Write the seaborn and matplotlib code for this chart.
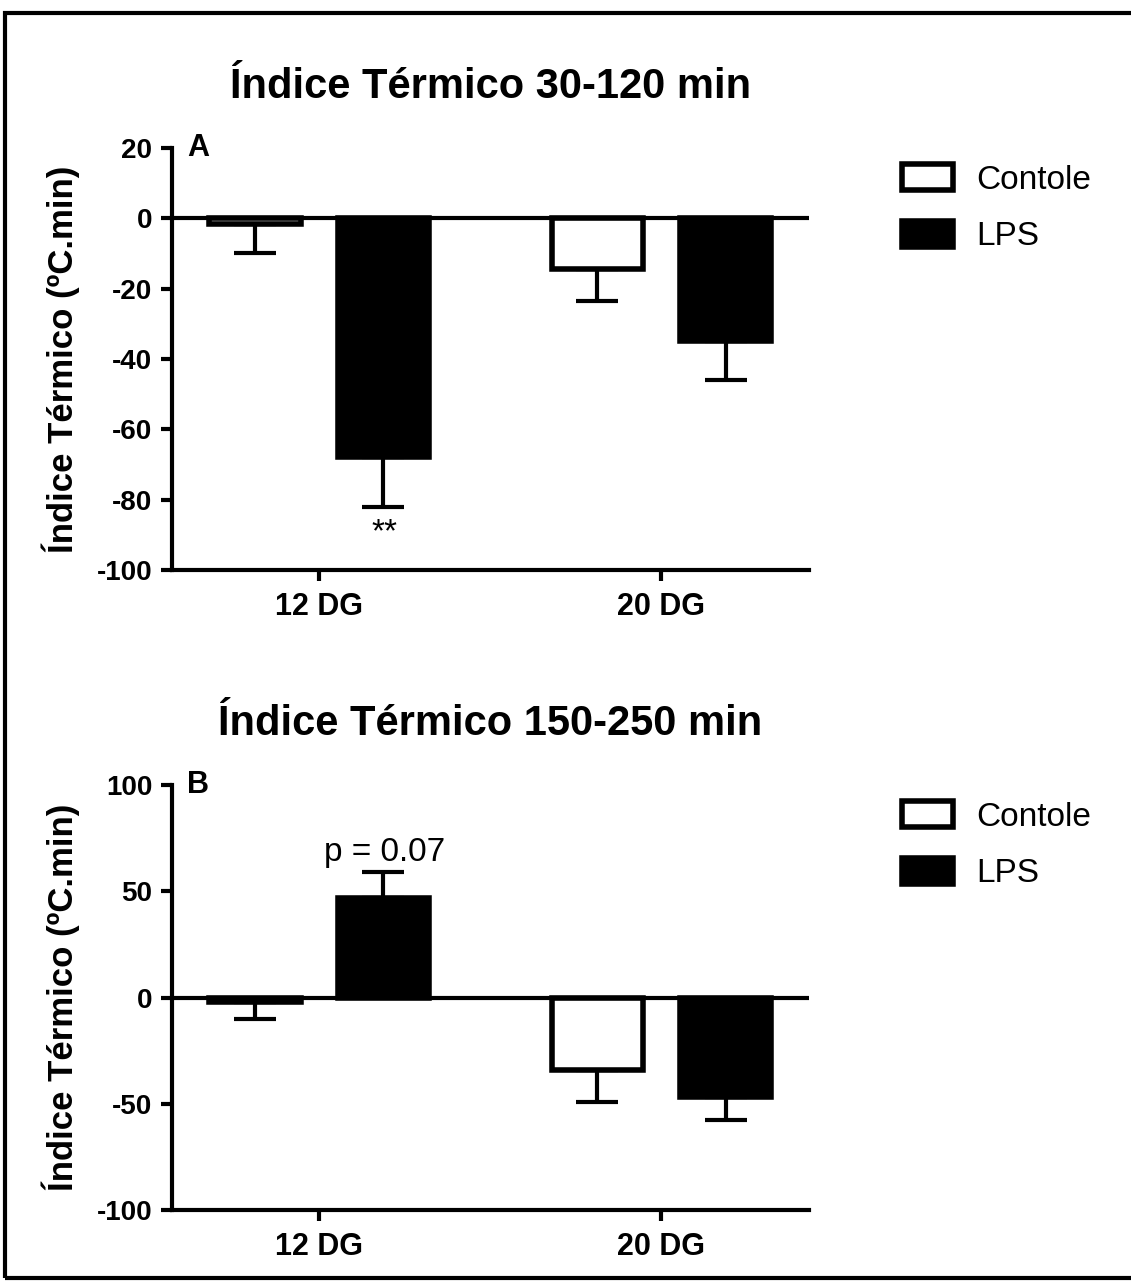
import numpy as np
import pandas as pd
import matplotlib
matplotlib.use("Agg")
import matplotlib.pyplot as plt
from matplotlib.patches import Patch, Rectangle
import seaborn as sns

# --- Dados (média e erro) ---
grupos = ["12 DG", "20 DG"]
tratamentos = ["Contole", "LPS"]

# Painel A: Índice Térmico 30-120 min
media_a_ctrl = [-1.5, -14.5]
media_a_lps = [-68.0, -35.0]
erro_a_ctrl = [8.5, 9.0]
erro_a_lps = [14.0, 11.0]

# Painel B: Índice Térmico 150-250 min
media_b_ctrl = [-2.0, -34.0]
media_b_lps = [47.0, -47.0]
erro_b_ctrl = [8.0, 15.0]
erro_b_lps = [12.0, 10.5]

yticks_a = [-100, -80, -60, -40, -20, 0, 20]
yticks_b = [-100, -50, 0, 50, 100]

sns.set_theme(style="ticks")
plt.rcParams["font.family"] = ["Liberation Sans", "DejaVu Sans"]
plt.rcParams["axes.unicode_minus"] = False
for k in ["text.color", "axes.labelcolor", "xtick.color", "ytick.color", "axes.edgecolor"]:
    plt.rcParams[k] = "black"


def painel(ax, media_ctrl, media_lps, erro_ctrl, erro_lps, yticks, titulo, letra):
    df = pd.DataFrame({
        "grupo": grupos * 2,
        "tratamento": [tratamentos[0]] * 2 + [tratamentos[1]] * 2,
        "valor": media_ctrl + media_lps,
        "erro": erro_ctrl + erro_lps,
    })
    sns.barplot(data=df, x="grupo", y="valor", hue="tratamento",
                hue_order=tratamentos, order=grupos,
                palette={"Contole": "white", "LPS": "black"},
                edgecolor="black", linewidth=4, width=0.75, gap=0.29,
                errorbar=None, legend=False, ax=ax, zorder=3)

    # barras de erro (só para fora do zero)
    for bar, (_, row) in zip(ax.patches, df.iterrows()):
        xc = bar.get_x() + bar.get_width() / 2
        if row["valor"] >= 0:
            yerr = [[0], [row["erro"]]]
        else:
            yerr = [[row["erro"]], [0]]
        ax.errorbar(xc, row["valor"], yerr=yerr, fmt="none", ecolor="black",
                    elinewidth=3, capsize=15, capthick=3, zorder=2)

    ax.axhline(0, color="black", lw=3, zorder=4)
    ax.set_xlim(-0.43, 1.43)
    ax.set_ylim(yticks[0], yticks[-1])
    ax.set_yticks(yticks)
    ax.set_xlabel("")
    ax.set_ylabel("Índice Térmico (ºC.min)", fontsize=25, fontweight="bold")
    ax.yaxis.set_label_coords(-0.145, 0.5)
    ax.set_title(titulo, fontsize=30, fontweight="bold", pad=36)
    sns.despine(ax=ax)
    for s in ["left", "bottom"]:
        ax.spines[s].set_linewidth(3)
    ax.tick_params(axis="both", length=8, width=3)
    ax.tick_params(axis="x", labelsize=22, pad=8)
    ax.tick_params(axis="y", labelsize=20, pad=6)
    for lbl in ax.get_xticklabels() + ax.get_yticklabels():
        lbl.set_fontweight("bold")
    ax.text(0.024, 1.0, letra, transform=ax.transAxes, fontsize=22,
            fontweight="bold", va="center", ha="left")

    handles = [Patch(facecolor="white", edgecolor="black", lw=4, label="Contole"),
               Patch(facecolor="black", edgecolor="black", lw=4, label="LPS")]
    ax.legend(handles=handles, loc="upper left", bbox_to_anchor=(1.126, 0.994),
              frameon=False, fontsize=24, handlelength=1.53, handleheight=0.84,
              handletextpad=0.7, labelspacing=0.75, borderaxespad=0)


fig = plt.figure(figsize=(11.31, 12.81), dpi=100)
ax_a = fig.add_axes([0.152, 0.555, 0.563, 0.3295])
ax_b = fig.add_axes([0.152, 0.0554, 0.563, 0.3318])

painel(ax_a, media_a_ctrl, media_a_lps, erro_a_ctrl, erro_a_lps, yticks_a,
       "Índice Térmico 30-120 min", "A")
painel(ax_b, media_b_ctrl, media_b_lps, erro_b_ctrl, erro_b_lps, yticks_b,
       "Índice Térmico 150-250 min", "B")

# anotações
ax_a.text(0.19, media_a_lps[0] - erro_a_lps[0] - 3, "**", ha="center", va="top",
          fontsize=24)
ax_b.text(0.19, media_b_lps[0] + erro_b_lps[0] + 2, "p = 0.07", ha="center",
          va="bottom", fontsize=24)

# moldura da figura
fig.patches.append(Rectangle((0.0044, 0.002), 1.2, 0.988, transform=fig.transFigure,
                             fill=False, edgecolor="black", lw=3))

fig.savefig("out.png", dpi=100)
